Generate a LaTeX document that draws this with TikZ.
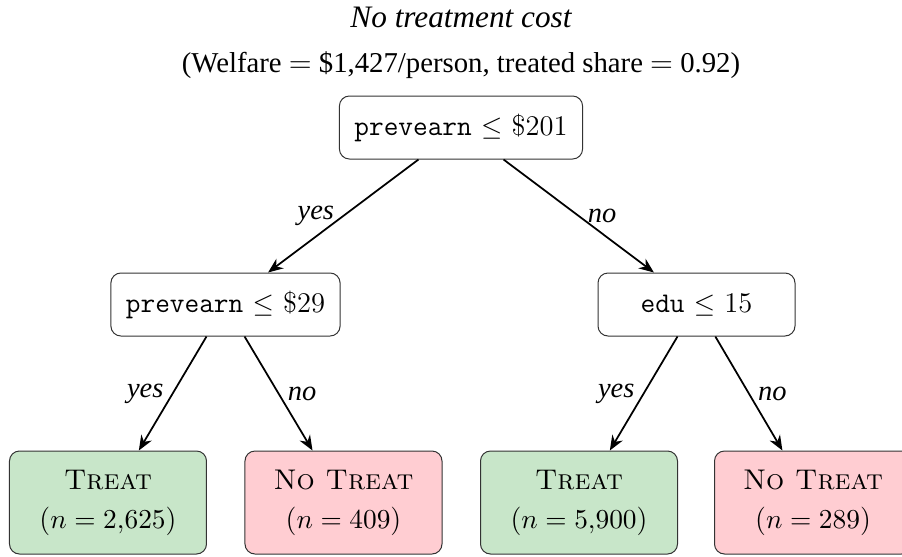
\documentclass[tikz,border=0pt]{standalone}
\usepackage{fontspec}
\usepackage{tikz}
\usetikzlibrary{arrows.meta}
\newfontfamily\timesfont{Liberation Serif}
\definecolor{treatgreen}{RGB}{200,230,201}
\definecolor{notreatred}{RGB}{255,205,210}
\newcommand{\treetext}{\fontsize{11.4}{15.6}\selectfont}
\newcommand{\tagtext}{\timesfont\itshape\fontsize{11.4}{13}\selectfont}
\tikzset{%
	split/.style    = {draw=black!80, rectangle, rounded corners=4pt, minimum width=78.8pt, minimum height=25.2pt, inner xsep=6pt, font=\treetext}, % Decision
	leaf/.style     = {split, minimum height=41.2pt, align=center},
	treat/.style    = {leaf, fill=treatgreen}, % Treat
	notreat/.style  = {leaf, fill=notreatred}, % No treat
	branch/.style   = {line width=0.7pt, -{Stealth[length=6pt,width=4.8pt]}},
	yeslab/.style   = {midway, left, font=\tagtext},
	nolab/.style    = {midway, right, font=\tagtext},
	title/.style    = {anchor=base, inner sep=0pt, font=\timesfont\itshape\fontsize{12.5}{15}\selectfont},
	subtitle/.style = {anchor=base, inner sep=0pt, font=\timesfont\fontsize{11.5}{14}\selectfont},
}
\begin{document}
\begin{tikzpicture}
	\useasboundingbox (-184.4pt,51pt) rectangle (176.4pt,-171.4pt);
	\node[title] (head) at (0,40.2pt) {No treatment cost};
	\node[subtitle] (sub) at (0,22.2pt) {(Welfare $=$ \$1,427/person, treated share $=$ 0.92)};
	\node[split] (root) at (0,0) {\texttt{prevearn} $\leq$ \$201};
	\node[split] (lo) at (-94.2pt,-70.8pt) {\texttt{prevearn} $\leq$ \$29};
	\node[split] (hi) at (94.2pt,-70.8pt) {\texttt{edu} $\leq$ 15};
	\node[treat] (lolo) at (-141.2pt,-150pt) {\textsc{Treat}\\($n = 2{,}625$)};
	\node[notreat] (lohi) at (-47pt,-150pt) {\textsc{No Treat}\\($n = 409$)};
	\node[treat] (hilo) at (47.2pt,-150pt) {\textsc{Treat}\\($n = 5{,}900$)};
	\node[notreat] (hihi) at (140.8pt,-150pt) {\textsc{No Treat}\\($n = 289$)};

	\draw[branch] (root) -- node[yeslab] {yes} (lo);
	\draw[branch] (root) -- node[nolab] {no} (hi);
	\draw[branch] (lo) -- node[yeslab] {yes} (lolo);
	\draw[branch] (lo) -- node[nolab] {no} (lohi);
	\draw[branch] (hi) -- node[yeslab] {yes} (hilo);
	\draw[branch] (hi) -- node[nolab] {no} (hihi);
\end{tikzpicture}
\end{document}
